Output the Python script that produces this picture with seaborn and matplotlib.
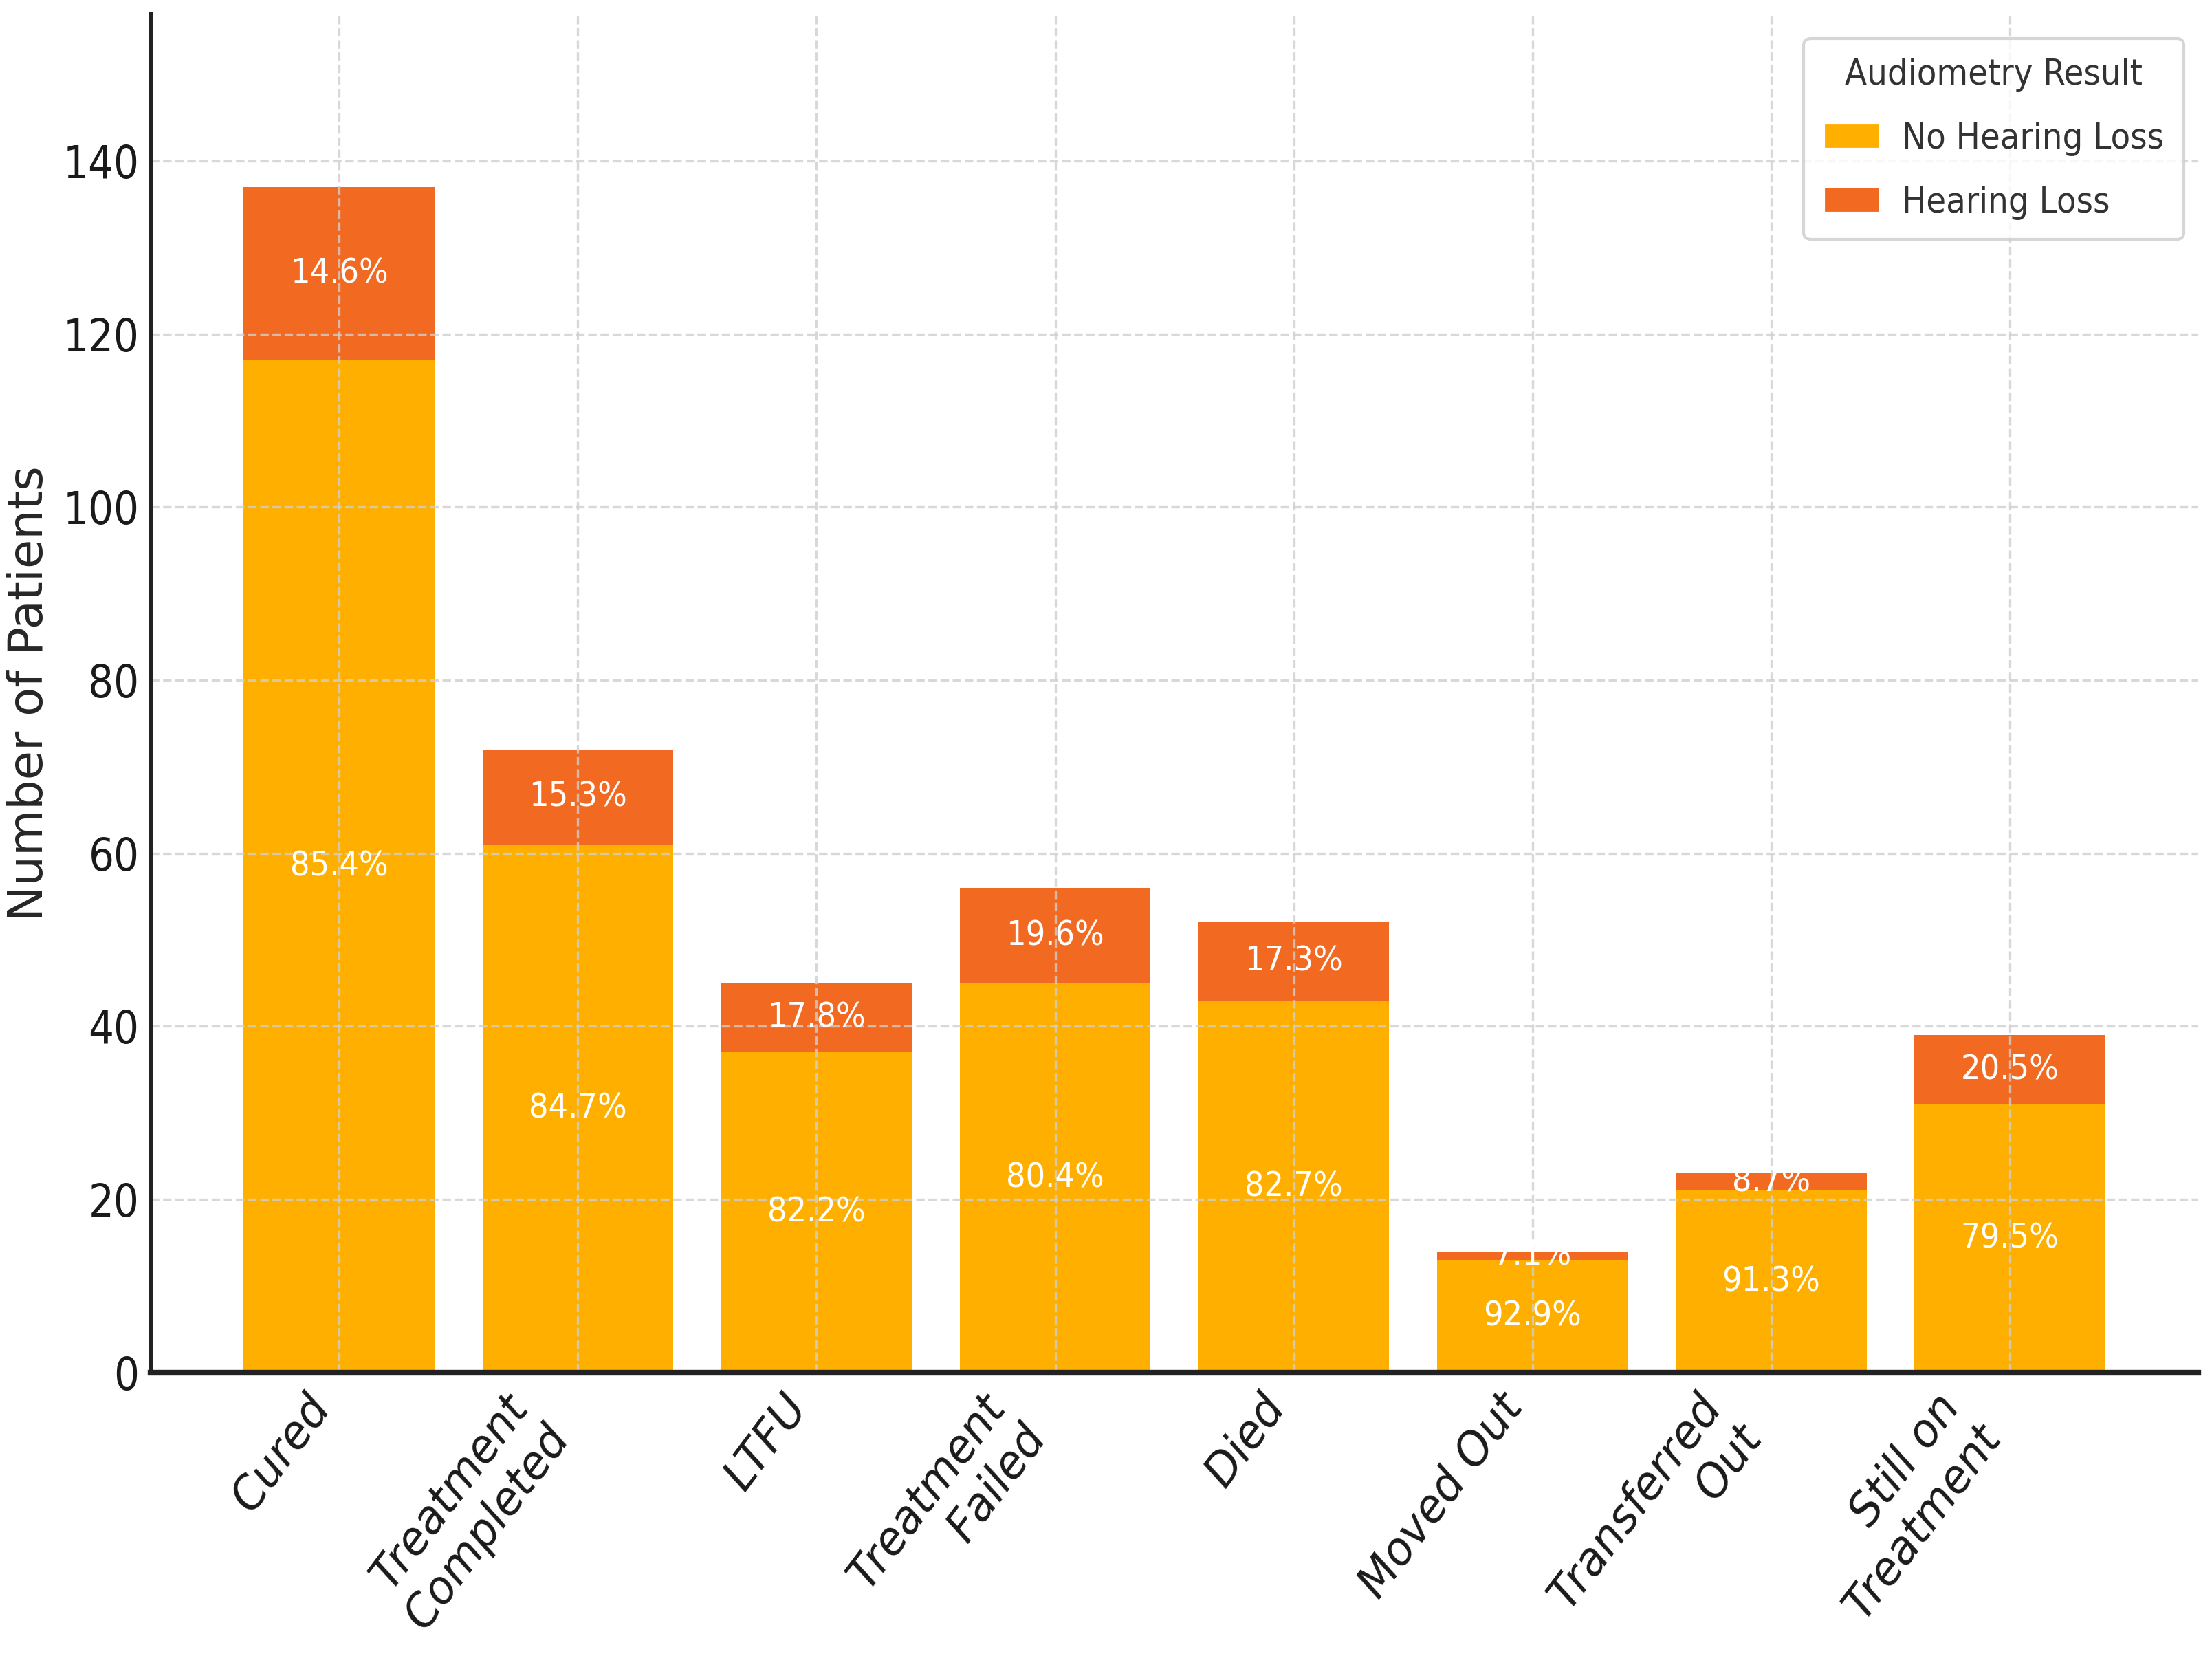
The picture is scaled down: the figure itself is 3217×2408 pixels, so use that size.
import pandas as pd
import seaborn as sns
import matplotlib.pyplot as plt
from matplotlib.patches import Patch

outcomes = ['Cured', 'Treatment Completed', 'LTFU', 'Treatment Failed', 'Died',
            'Moved Out', 'Transferred Out', 'Still on Treatment']
outcome_labels = ['Cured', 'Treatment\nCompleted', 'LTFU', 'Treatment\nFailed', 'Died',
                  'Moved Out', 'Transferred\nOut', 'Still on\nTreatment']
no_hearing_loss = [117, 61, 37, 45, 43, 13, 21, 31]
hearing_loss = [20, 11, 8, 11, 9, 1, 2, 8]
y_ticks = [0, 20, 40, 60, 80, 100, 120, 140]

yellow = '#FFAF00'
orange = '#F26A22'

df = pd.DataFrame({'outcome': outcomes, 'no_loss': no_hearing_loss, 'loss': hearing_loss})
df['total'] = df['no_loss'] + df['loss']

sns.set_style('white')
plt.rcParams['font.family'] = ['DejaVu Sans']

fig, ax = plt.subplots(figsize=(3217 / 300, 2408 / 300), dpi=300)
fig.subplots_adjust(left=0.0681, right=0.9938, bottom=0.1712, top=0.9917)

# stacked: full height in orange, then the no-loss part on top of it in yellow
sns.barplot(data=df, x='outcome', y='total', color=orange, saturation=1, width=0.8,
            linewidth=0, errorbar=None, ax=ax)
sns.barplot(data=df, x='outcome', y='no_loss', color=yellow, saturation=1, width=0.8,
            linewidth=0, errorbar=None, ax=ax)

for i, row in df.iterrows():
    ax.text(i, row['no_loss'] / 2, f"{row['no_loss'] / row['total'] * 100:.1f}%",
            ha='center', va='center', color='white', fontsize=12, fontstretch='condensed')
    ax.text(i, row['no_loss'] + row['loss'] / 2, f"{row['loss'] / row['total'] * 100:.1f}%",
            ha='center', va='center', color='white', fontsize=12, fontstretch='condensed')

ax.set_xlim(-0.79, 7.79)
ax.set_ylim(0, 157)

ax.grid(True, axis='both', linestyle='--', linewidth=0.8, color='#cfcfcf', alpha=0.8, zorder=2)
ax.set_axisbelow(False)

sns.despine(ax=ax)
ax.spines['left'].set_linewidth(1.2)
ax.spines['left'].set_color('#222222')
ax.spines['bottom'].set_linewidth(2.0)
ax.spines['bottom'].set_color('#222222')
ax.spines['left'].set_zorder(3)
ax.spines['bottom'].set_zorder(3)
ax.tick_params(direction='in', length=3.5, width=1.1, color='#222222')
ax.tick_params(axis='y', pad=4)
ax.tick_params(axis='x', pad=5)

ax.set_yticks(y_ticks)
ax.set_yticklabels([str(v) for v in y_ticks], fontsize=15.5, fontstretch='condensed', color='#1a1a1a')
ax.set_xticks(range(len(outcome_labels)))
ax.set_xticklabels(outcome_labels, rotation=53, ha='right', fontsize=15.5,
                   fontstyle='oblique', color='#1a1a1a')

ax.set_xlabel('')
ax.set_ylabel('Number of Patients', fontsize=16.5, color='#262626')
ax.yaxis.set_label_coords(-0.048, 0.5)

handles = [Patch(facecolor=yellow, label='No Hearing Loss'),
           Patch(facecolor=orange, label='Hearing Loss')]
leg = ax.legend(handles=handles, title='Audiometry Result', loc='upper right',
                bbox_to_anchor=(0.993, 0.982), borderaxespad=0,
                prop={'size': 12.5, 'stretch': 'condensed'},
                title_fontproperties={'size': 12.5, 'stretch': 'condensed'},
                handlelength=1.6, handleheight=0.75, handletextpad=0.6,
                labelspacing=0.82, borderpad=0.55, frameon=True, edgecolor='#cccccc')
for t in leg.get_texts():
    t.set_color('#333333')
leg.get_title().set_color('#333333')

fig.savefig('out.png', dpi=300)
